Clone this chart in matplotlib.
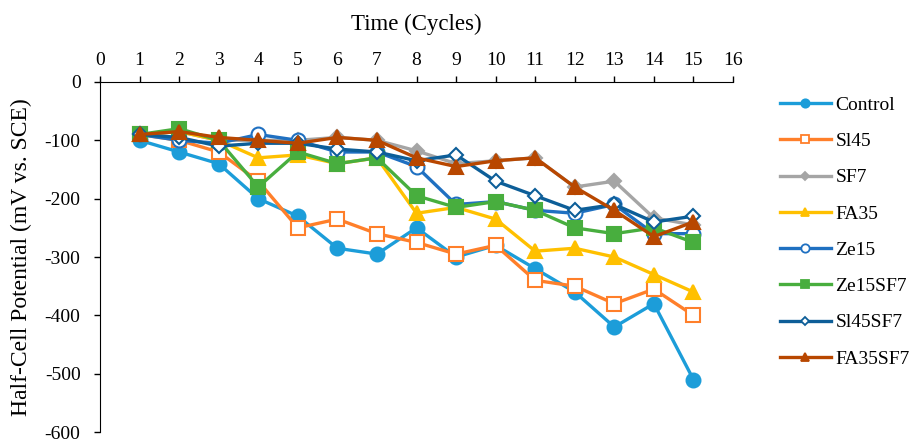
import matplotlib.pyplot as plt
from matplotlib.lines import Line2D

plt.rcParams['font.family'] = ['Liberation Serif', 'DejaVu Serif']
plt.rcParams['axes.unicode_minus'] = False

cycles = list(range(1, 16))

control = [-100, -120, -140, -200, -230, -285, -295, -250, -300, -280, -320, -360, -420, -380, -510]
sl45 = [-90, -100, -120, -170, -250, -235, -260, -275, -295, -280, -340, -350, -380, -355, -400]
sf7 = [-90, -85, -100, -100, -100, -95, -100, -118, -140, -135, -130, -180, -170, -233, -245]
fa35 = [-90, -85, -100, -130, -125, -140, -130, -225, -215, -235, -290, -285, -300, -330, -360]
ze15 = [-90, -100, -105, -90, -100, -120, -120, -145, -210, -205, -220, -225, -210, -260, -260]
ze15sf7 = [-90, -80, -100, -180, -120, -140, -130, -195, -215, -205, -220, -250, -260, -250, -275]
sl45sf7 = [-90, -95, -110, -105, -105, -115, -120, -135, -125, -170, -195, -220, -210, -240, -230]
fa35sf7 = [-90, -85, -95, -100, -105, -95, -100, -130, -145, -135, -130, -180, -220, -265, -240]

names = ['Control', 'Sl45', 'SF7', 'FA35', 'Ze15', 'Ze15SF7', 'Sl45SF7', 'FA35SF7']
series = [control, sl45, sf7, fa35, ze15, ze15sf7, sl45sf7, fa35sf7]

# (colour, marker, filled)
styles = [
    ('#1c9dd9', 'o', True),
    ('#ff7f2a', 's', False),
    ('#a5a5a5', 'D', True),
    ('#ffc000', '^', True),
    ('#1f70c1', 'o', False),
    ('#48ae3e', 's', True),
    ('#0d5e98', 'D', False),
    ('#b84700', '^', True),
]
sizes = {'o': 10, 's': 9.5, 'D': 7.5, '^': 10}

fig = plt.figure(figsize=(9.16, 4.42), dpi=100)
ax = fig.add_axes([0.1092, 0.0226, 0.6910, 0.7919])

handles = []
for name, vals, (col, mk, filled) in zip(names, series, styles):
    face = col if filled else 'white'
    ax.plot(cycles, vals, color=col, lw=2.4, marker=mk, ms=sizes[mk],
            markerfacecolor=face, markeredgecolor=col, markeredgewidth=1.5)
    handles.append(Line2D([0], [0], color=col, lw=2.4, marker=mk,
                          ms=sizes[mk] * 0.6, markerfacecolor=face,
                          markeredgecolor=col, markeredgewidth=1.3, label=name))

ax.set_xlim(0, 16)
ax.set_ylim(-600, 0)
ax.set_xticks(range(0, 17))
ax.set_yticks(range(-600, 1, 100))

ax.xaxis.tick_top()
ax.xaxis.set_label_position('top')
ax.spines['bottom'].set_visible(False)
ax.spines['right'].set_visible(False)
ax.tick_params(axis='both', direction='out', length=4, width=1, labelsize=14, colors='black')
ax.tick_params(axis='x', pad=5)
ax.tick_params(axis='y', pad=10)

ax.set_xlabel('Time (Cycles)', fontsize=16.5, labelpad=16)
ax.set_ylabel('Half-Cell Potential (mV vs. SCE)', fontsize=17, labelpad=9)

fig.legend(handles=handles, loc='upper left', bbox_to_anchor=(0.843, 0.8),
           frameon=False, fontsize=14, handlelength=2.6, handletextpad=0.25,
           labelspacing=0.96, borderaxespad=0)

fig.savefig('out.png', dpi=100)
